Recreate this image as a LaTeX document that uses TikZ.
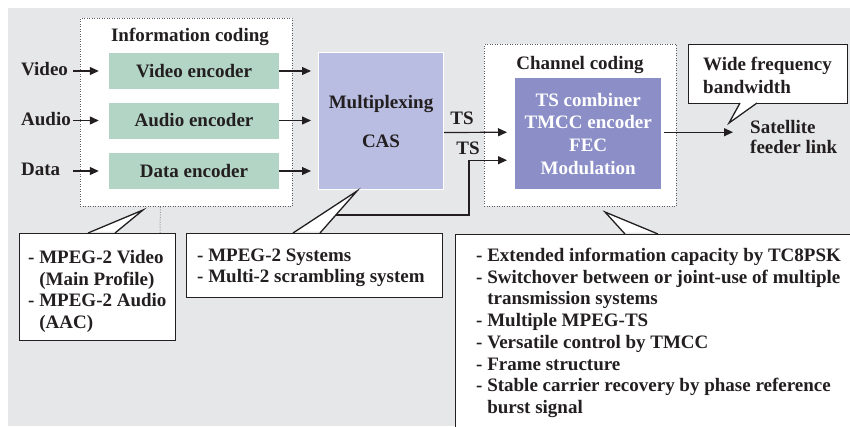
\documentclass[tikz,border=0pt]{standalone}
\usepackage{fontspec}
\setmainfont{Liberation Serif}
\usetikzlibrary{arrows.meta}
\definecolor{ink}{HTML}{231F20}
\definecolor{bg}{HTML}{E6E7E8}
\definecolor{encfill}{HTML}{B3D5C6}
\definecolor{muxfill}{HTML}{B9BDE1}
\definecolor{chfill}{HTML}{8C8FC7}
\definecolor{dotc}{HTML}{5A5B5E}
\begin{document}
\begin{tikzpicture}[x=1pt,y=-1pt,
  every node/.style={text=ink, font=\bfseries\fontsize{19}{21.7}\selectfont},
  txt/.style={inner sep=0pt, align=left},
  dotbox/.style={draw=dotc, fill=white, line width=0.9pt, dash pattern=on 0.9pt off 1.6pt, inner sep=0pt},
  encbox/.style={fill=encfill, minimum width=170pt, minimum height=36pt, inner sep=0pt},
  arr/.style={draw=ink, line width=1.2pt, line join=miter, -{Triangle[length=9pt,width=8pt]}},
  callbox/.style={draw=ink, fill=white, line width=1.3pt, inner sep=0pt},
  ptr/.style={draw=ink, line width=1.3pt, line join=miter},
  inlbl/.style={inner sep=0pt, anchor=base west, text width=52pt, align=left}]
\useasboundingbox (0,0) rectangle (850,426);
\fill[white] (0,0) rectangle (850,426);
\fill[bg] (8,8) rectangle (850,426);

% Information coding
\node[dotbox, anchor=north west, minimum width=212pt, minimum height=188pt] (info) at (80,18) {};
\node[anchor=base] (infot) at (190,41) {Information coding};
\node[encbox] (venc) at (194,71) {Video encoder};
\node[encbox] (aenc) at (194,120.5) {Audio encoder};
\node[encbox] (denc) at (194,171) {Data encoder};
\node[inlbl] (vin) at (21,75) {Video};
\node[inlbl] (ain) at (21,125) {Audio};
\node[inlbl] (din) at (21,175) {Data};
\draw[arr, shorten >=10pt] (vin.east |- venc.west) -- (venc.west);
\draw[arr, shorten >=10pt] (ain.east |- aenc.west) -- (aenc.west);
\draw[arr, shorten >=10pt] (din.east |- denc.west) -- (denc.west);

% Multiplexing
\node[draw=white, line width=1pt, fill=muxfill, anchor=north west, minimum width=125pt,
  minimum height=137pt, align=center, font=\bfseries\fontsize{19}{39}\selectfont] (mux) at (318,52) {Multiplexing\\CAS};
\draw[arr, shorten >=7pt] (venc.east) -- (venc.east -| mux.west);
\draw[arr, shorten >=7pt] (aenc.east) -- (aenc.east -| mux.west);
\draw[arr, shorten >=7pt] (denc.east) -- (denc.east -| mux.west);

% Channel coding
\node[dotbox, anchor=north west, minimum width=192pt, minimum height=162pt] (chan) at (484,44) {};
\node[anchor=base] (chant) at (580,69) {Channel coding};
\node[fill=chfill, anchor=north west, minimum width=146pt, minimum height=111pt, align=center,
  text=white, font=\bfseries\fontsize{19}{22.6}\selectfont] (chin) at (515,78)
  {TS combiner\\TMCC encoder\\FEC\\Modulation};

% TS links
\node[anchor=base] (ts1) at (462,124) {TS};
\node[anchor=base] (ts2) at (468,154) {TS};
\draw[arr, shorten >=8pt] ([yshift=-11.5pt]mux.east) -- ([yshift=1.5pt]chin.west);
\coordinate (ts2s) at (330,215);
\coordinate (ts2k) at (469,215);
\draw[arr, shorten >=8pt] (ts2s) -- (ts2k) |- ([yshift=-26.5pt]chin.west);

% Output
\node[txt, anchor=north west, font=\bfseries\fontsize{19}{20.5}\selectfont] (sat) at (750,120) {Satellite\\feeder link};
\coordinate (outs) at ([xshift=3pt,yshift=1.5pt]chin.east);
\draw[arr, shorten >=17pt] (outs) -- (outs -| sat.west);

% Callout: wide frequency
\node[callbox, anchor=north west, minimum width=159pt, minimum height=59pt] (wide) at (688,44) {};
\node[txt, anchor=north west, font=\bfseries\fontsize{19}{23}\selectfont] (widet) at (703,57) {Wide frequency\\bandwidth};
\fill[white] (740,101.5) -- (740,103) -- (729,123) -- (757,103) -- (757,101.5) -- cycle;
\draw[ptr] (740,103) -- (729,123) -- (757,103);

% Callout 1
\draw[dotc!60, line width=1pt, dash pattern=on 1pt off 1.5pt] ([xshift=-26pt]info.south) -- (160,233);
\node[callbox, anchor=north west, minimum width=156pt, minimum height=107pt] (c1) at (19,233) {};
\fill[white] (88,231.5) -- (88,233) -- (143,210) -- (115,233) -- (115,231.5) -- cycle;
\draw[ptr] (88,233) -- (143,210) -- (115,233);
\node[txt, anchor=north west] (c1t) at (28,250) {- MPEG-2 Video\\\hphantom{- }(Main Profile)\\- MPEG-2 Audio\\\hphantom{- }(AAC)};

% Callout 2
\node[callbox, anchor=north west, minimum width=256pt, minimum height=64pt] (c2) at (186,233) {};
\fill[white] (293,231.5) -- (293,233) -- (357,191) -- (320,233) -- (320,231.5) -- cycle;
\draw[ptr] (293,233) -- (357,191) -- (320,233);
\node[txt, anchor=north west] (c2t) at (197,248.5) {- MPEG-2 Systems\\- Multi-2 scrambling system};

% Callout 3
\node[callbox, anchor=north west, minimum width=400pt, minimum height=200pt] (c3) at (455,234) {};
\fill[white] (625,232.5) -- (625,234) -- (605,212) -- (658,234) -- (658,232.5) -- cycle;
\draw[ptr] (625,234) -- (605,212) -- (658,234);
\node[txt, anchor=north west] (c3t) at (476,248) {- Extended information capacity by TC8PSK\\
- Switchover between or joint-use of multiple\\
\hphantom{- }transmission systems\\
- Multiple MPEG-TS\\
- Versatile control by TMCC\\
- Frame structure\\
- Stable carrier recovery by phase reference\\
\hphantom{- }burst signal};
\end{tikzpicture}
\end{document}
